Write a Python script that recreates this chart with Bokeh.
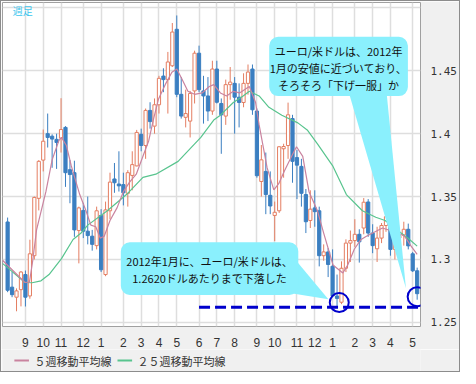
from bokeh.plotting import figure
from bokeh.layouts import column
from bokeh.models import (ColumnDataSource, FixedTicker, Range1d, BoxAnnotation,
                          PolyAnnotation, Label)
from bokeh.core.properties import value
from bokeh.embed import file_html
from bokeh.resources import INLINE

# ---------------- data: weekly EUR/USD candles, week 0 = week of 2010-08-09 ----------------
opens = [1.3298, 1.2780, 1.2700, 1.2760, 1.2880, 1.2710, 1.3030, 1.3486, 1.3790, 1.4000,
         1.3980, 1.3955, 1.3964, 1.4050, 1.3714, 1.3690, 1.3230, 1.3390, 1.3225, 1.3185,
         1.3110, 1.3350, 1.2880, 1.3387, 1.3640, 1.3600, 1.3595, 1.3526, 1.3668, 1.3744,
         1.3995, 1.3906, 1.4185, 1.4060, 1.4230, 1.4458, 1.4430, 1.4540, 1.4830, 1.4313,
         1.4130, 1.4100, 1.4340, 1.4640, 1.4340, 1.4300, 1.4180, 1.4514, 1.4240, 1.4140,
         1.4390, 1.4400, 1.4290, 1.4248, 1.4400, 1.4514, 1.4180, 1.3620, 1.3700, 1.3510,
         1.3350, 1.3387, 1.3880, 1.3906, 1.4120, 1.3810, 1.3740, 1.3516, 1.3310, 1.3410,
         1.3387, 1.3030, 1.3060, 1.2946, 1.2710, 1.2660, 1.2930, 1.3130, 1.3150, 1.3200,
         1.3250, 1.3457, 1.3210, 1.3085, 1.3170, 1.3270, 1.3340, 1.3080, 1.3170, 1.3195,
         1.3240, 1.3045, 1.2910]
highs = [1.3333, 1.2900, 1.2770, 1.2908, 1.2912, 1.3157, 1.3500, 1.3790, 1.4033, 1.4160,
         1.3995, 1.4000, 1.4282, 1.4060, 1.3790, 1.3785, 1.3420, 1.3450, 1.3500, 1.3235,
         1.3420, 1.3400, 1.3460, 1.3690, 1.3767, 1.3860, 1.3690, 1.3710, 1.3860, 1.4030,
         1.4040, 1.4200, 1.4250, 1.4280, 1.4460, 1.4520, 1.4650, 1.4880, 1.4940, 1.4450,
         1.4350, 1.4340, 1.4660, 1.4700, 1.4460, 1.4450, 1.4580, 1.4580, 1.4280, 1.4430,
         1.4530, 1.4450, 1.4400, 1.4480, 1.4550, 1.4550, 1.4200, 1.3910, 1.3850, 1.3700,
         1.3460, 1.3900, 1.3920, 1.4247, 1.4150, 1.3870, 1.3800, 1.3560, 1.3550, 1.3550,
         1.3420, 1.3120, 1.3090, 1.3080, 1.2880, 1.2985, 1.3160, 1.3230, 1.3320, 1.3240,
         1.3488, 1.3480, 1.3280, 1.3260, 1.3290, 1.3385, 1.3390, 1.3220, 1.3220, 1.3300,
         1.3285, 1.3060, 1.2935]
lows = [1.2740, 1.2700, 1.2588, 1.2627, 1.2626, 1.2688, 1.3000, 1.3390, 1.3700, 1.3890,
        1.3729, 1.3720, 1.3850, 1.3577, 1.3447, 1.3180, 1.2969, 1.3170, 1.3120, 1.3070,
        1.3080, 1.2900, 1.2867, 1.3320, 1.3530, 1.3540, 1.3430, 1.3420, 1.3550, 1.3740,
        1.3860, 1.3800, 1.4040, 1.4000, 1.4160, 1.4330, 1.4160, 1.4530, 1.4290, 1.4120,
        1.4050, 1.3970, 1.4240, 1.4330, 1.4080, 1.4100, 1.4150, 1.4240, 1.3840, 1.4070,
        1.4270, 1.4000, 1.4050, 1.4210, 1.4310, 1.4150, 1.3650, 1.3500, 1.3360, 1.3360,
        1.3146, 1.3370, 1.3650, 1.3800, 1.3610, 1.3480, 1.3420, 1.3210, 1.3250, 1.3260,
        1.2945, 1.2990, 1.2860, 1.2700, 1.2624, 1.2645, 1.2900, 1.2980, 1.3100, 1.2975,
        1.3200, 1.3180, 1.3050, 1.2980, 1.3130, 1.3220, 1.3030, 1.3000, 1.2990, 1.3110,
        1.3080, 1.2900, 1.2680]
closes = [1.2755, 1.2720, 1.2750, 1.2900, 1.2700, 1.3045, 1.3493, 1.3780, 1.3940, 1.3970,
          1.3957, 1.3930, 1.4033, 1.3690, 1.3675, 1.3235, 1.3410, 1.3225, 1.3190, 1.3120,
          1.3387, 1.2918, 1.3394, 1.3615, 1.3610, 1.3585, 1.3530, 1.3690, 1.3754, 1.4010,
          1.3906, 1.4185, 1.4096, 1.4230, 1.4440, 1.4430, 1.4570, 1.4808, 1.4313, 1.4140,
          1.4160, 1.4320, 1.4640, 1.4350, 1.4300, 1.4180, 1.4514, 1.4250, 1.4150, 1.4390,
          1.4410, 1.4290, 1.4248, 1.4400, 1.4490, 1.4190, 1.3666, 1.3792, 1.3516, 1.3425,
          1.3375, 1.3896, 1.3898, 1.4150, 1.3780, 1.3750, 1.3526, 1.3300, 1.3400, 1.3380,
          1.3030, 1.3060, 1.2960, 1.2710, 1.2690, 1.2930, 1.3130, 1.3150, 1.3200, 1.3140,
          1.3455, 1.3210, 1.3110, 1.3170, 1.3270, 1.3340, 1.3080, 1.3170, 1.3190, 1.3240,
          1.3108, 1.2910, 1.2728]

# moving averages (week index, value)
ma5_week = [-1.15, 3.9, 4.9, 5.6, 6.5, 8.6, 10.0, 11.5, 12.1, 13.2, 14.3, 16.2, 17.6, 18.7,
            19.8, 20.8, 21.7, 23.0, 24.6, 26.0, 27.4, 28.9, 30.4, 31.7, 32.8, 33.9, 35.4,
            36.9, 38.0, 39.1, 40.5, 42.0, 43.7, 45.3, 46.3, 47.8, 49.2, 50.7, 52.1, 54.3,
            55.7, 56.5, 58.3, 59.8, 60.9, 62.2, 63.8, 64.9, 66.3, 67.7, 69.6, 71.0, 73.1,
            75.3, 76.4, 77.9, 79.4, 80.6, 84.2, 87.7, 89.2, 90.6, 92.0]
ma5_value = [1.2994, 1.2817, 1.2820, 1.2980, 1.3235, 1.3539, 1.3792, 1.3944, 1.3971, 1.3906,
             1.3744, 1.3516, 1.3387, 1.3273, 1.3260, 1.3170, 1.3184, 1.3310, 1.3412, 1.3539,
             1.3615, 1.3678, 1.3820, 1.3944, 1.4120, 1.4275, 1.4390, 1.4489, 1.4514, 1.4438,
             1.4337, 1.4313, 1.4324, 1.4375, 1.4390, 1.4324, 1.4299, 1.4337, 1.4324, 1.4375,
             1.4248, 1.4070, 1.3728, 1.3553, 1.3602, 1.3706, 1.3820, 1.3896, 1.3820, 1.3539,
             1.3387, 1.3210, 1.2956, 1.2893, 1.2956, 1.3083, 1.3159, 1.3184, 1.3250, 1.3210,
             1.3184, 1.3108, 1.3040]
ma25_week = [-1.15, 3.9, 5.5, 7.5, 9.3, 12.1, 14.7, 16.5, 18.0, 22.4, 26.7, 30.4, 33.3, 38.3,
             43.4, 46.3, 47.8, 50.7, 52.9, 54.3, 56.5, 58.7, 61.6, 65.2, 67.3, 69.6, 73.1,
             76.1, 79.7, 82.7, 84.8, 88.4, 89.9, 92.0]
ma25_value = [1.2969, 1.2817, 1.2815, 1.2830, 1.2880, 1.3007, 1.3159, 1.3210, 1.3273, 1.3387,
              1.3516, 1.3653, 1.3678, 1.3780, 1.3970, 1.4108, 1.4147, 1.4248, 1.4299, 1.4337,
              1.4300, 1.4210, 1.4147, 1.4086, 1.4030, 1.3919, 1.3740, 1.3516, 1.3387, 1.3336,
              1.3310, 1.3210, 1.3170, 1.3106]

month_ticks = [4, 8, 12, 17, 21, 26, 30, 34, 38, 43, 47, 51, 56, 60, 65, 69, 73, 78, 82, 86, 91]
month_labels = ["9", "10", "11", "12", "1", "2", "3", "4", "5", "6", "7", "8",
                "9", "10", "11", "12", "1", "2", "3", "4", "5"]
price_ticks = [1.25, 1.30, 1.35, 1.40, 1.45]
price_labels = ["1.25", "1.3", "1.35", "1.4", "1.45"]
grid_prices = [1.25, 1.30, 1.35, 1.40, 1.45, 1.50]
low_level = 1.2620
legend_labels = ["５週移動平均線", "２５週移動平均線"]
note_top = ["ユーロ/米ドルは、2012年", "1月の安値に近づいており、", "そろそろ「下げ一服」か"]
note_bottom = ["2012年1月に、ユーロ/米ドルは、", "1.2620ドルあたりまで下落した"]
title_text = "週足"

# ---------------- styling ----------------
UP = "#e47e62"
DOWN = "#3b7fc1"
C5 = "#c9839f"
C25 = "#58c48e"
CYAN = "#8af0fd"
MARK = "#0000cc"
PANEL = "#f0f0f0"
JP = "Noto Sans CJK JP"

X0, X1 = -1.15, 92.75
Y0, Y1 = 1.2467, 1.5043


def wx(px):  # reference-pixel x -> week index (annotation placement)
    return X0 + (px - 2) / 4.59


def py(px):  # reference-pixel y -> price (annotation placement)
    return 1.25 + (336.7 - px) / 1316.0


p = figure(frame_width=418, frame_height=324, x_range=Range1d(X0, X1), y_range=Range1d(Y0, Y1),
           y_axis_location="right", output_backend="svg", toolbar_location=None)
p.min_border_left = 1
p.min_border_top = 1
p.min_border_right = 39
p.min_border_bottom = 19
p.border_fill_color = PANEL
p.background_fill_color = "white"
p.outline_line_color = "#a0a0a0"

p.xgrid.ticker = FixedTicker(ticks=month_ticks)
p.ygrid.ticker = FixedTicker(ticks=grid_prices)
p.grid.grid_line_color = "#dedede"
p.grid.grid_line_width = 1.5

p.yaxis.ticker = FixedTicker(ticks=price_ticks)
p.yaxis.major_label_overrides = {t: s for t, s in zip(price_ticks, price_labels)}
p.xaxis.ticker = FixedTicker(ticks=month_ticks)
p.xaxis.major_label_overrides = {t: s for t, s in zip(month_ticks, month_labels)}
for ax in (p.xaxis, p.yaxis):
    ax.axis_line_color = None
    ax.major_tick_line_color = None
    ax.minor_tick_line_color = None
    ax.major_label_text_color = "#333333"
p.yaxis.major_label_text_font = "DejaVu Sans Mono"
p.yaxis.major_label_text_font_size = "11px"
p.yaxis.major_label_standoff = 4
p.xaxis.major_label_text_font = "Liberation Sans"
p.xaxis.major_label_text_font_size = "12px"
p.xaxis.major_label_standoff = 5

# ---------------- candles ----------------
weeks = list(range(len(opens)))
def part(cond):
    sel = [i for i in weeks if cond(opens[i], closes[i])]
    return ColumnDataSource(dict(
        x=sel,
        top=[max(opens[i], closes[i]) for i in sel],
        bottom=[min(opens[i], closes[i]) for i in sel],
        high=[highs[i] for i in sel],
        low=[lows[i] for i in sel]))

src_up = part(lambda o, c: c >= o)
src_dn = part(lambda o, c: c < o)
for src, col, fill in ((src_up, UP, "white"), (src_dn, DOWN, DOWN)):
    p.segment(x0="x", y0="low", x1="x", y1="high", source=src, line_color=col, line_width=1)
    p.vbar(x="x", width=0.72, top="top", bottom="bottom", source=src,
           fill_color=fill, line_color=col, line_width=1)

# ---------------- moving averages ----------------
p.line(ma25_week, ma25_value, line_color=C25, line_width=1.2)
p.line(ma5_week, ma5_value, line_color=C5, line_width=1.2)

# ---------------- low level & markers ----------------
p.segment(x0=[month_ticks[9]], x1=[weeks[-1] + 0.3], y0=[low_level], y1=[low_level],
          line_color=MARK, line_width=3, line_dash="11 5")
jan2012 = month_ticks[16]
bottom_weeks = sorted((i for i in weeks if i >= jan2012), key=lambda i: lows[i])[:2]
i_low = bottom_weeks[0]
mark_x = [sum(bottom_weeks) / 2, weeks[-1]]
mark_y = [(lows[i_low] + closes[i_low]) / 2, (lows[-1] + closes[-1]) / 2]
p.scatter(mark_x, mark_y, marker="circle", size=19, fill_color=None,
          line_color=MARK, line_width=2)

# ---------------- callouts ----------------
p.add_layout(PolyAnnotation(xs=[wx(359), wx(398), wx(418)], ys=[py(96), py(96), py(301)],
                            fill_color=CYAN, fill_alpha=1, line_color=None))
p.add_layout(BoxAnnotation(left=wx(277), right=wx(420), top=py(38), bottom=py(100),
                           fill_color=CYAN, fill_alpha=1, line_color=None, border_radius=9))
p.add_layout(PolyAnnotation(xs=[wx(298), wx(298), wx(338)], ys=[py(264), py(306), py(312.5)],
                            fill_color=CYAN, fill_alpha=1, line_color=None))
p.add_layout(BoxAnnotation(left=wx(124), right=wx(307), top=py(253), bottom=py(308),
                           fill_color=CYAN, fill_alpha=1, line_color=None, border_radius=9))

for k, t in enumerate(note_top):
    p.add_layout(Label(x=wx(348.5), y=py(53 + 17.5 * k), text=t, text_align="center",
                       text_baseline="middle", text_font=JP, text_font_size="11px",
                       text_color="#111111"))
for k, t in enumerate(note_bottom):
    p.add_layout(Label(x=wx(215.5), y=py(272 + 18 * k), text=t, text_align="center",
                       text_baseline="middle", text_font=JP, text_font_size="11px",
                       text_color="#111111"))
p.add_layout(Label(x=wx(23), y=py(10), text=title_text, text_align="center",
                   text_baseline="middle", text_font=JP, text_font_size="10px",
                   text_color="#3cc6ee"))

# ---------------- legend strip (separate small canvas) ----------------
lg = figure(width=458, height=22, x_range=Range1d(0, 458), y_range=Range1d(0, 22),
            output_backend="svg", toolbar_location=None, min_border=0)
lg.axis.visible = False
lg.grid.visible = False
lg.outline_line_color = None
lg.background_fill_color = PANEL
lg.border_fill_color = PANEL
key_x0 = [13, 126]
key_cols = [C5, C25]
lg.segment(x0=key_x0, x1=[k + 16 for k in key_x0], y0=[11, 11], y1=[11, 11],
           line_color=key_cols, line_width=2)
lg.text(x=[k + 22 for k in key_x0], y=[11, 11], text=legend_labels,
        text_font=value(JP), text_font_size="11px", text_color="#333333",
        text_baseline="middle", text_align="left")

page = column(p, lg, spacing=0, styles={"border": "1px solid #8c8c8c"})
open("out.html", "w").write(file_html(page, INLINE))
